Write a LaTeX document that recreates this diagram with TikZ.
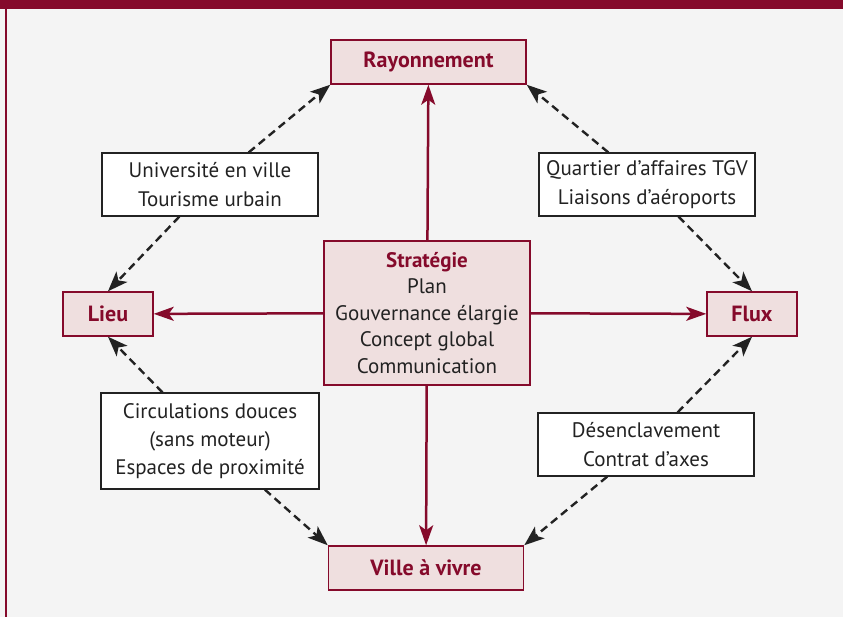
\documentclass[tikz,border=0pt]{standalone}
\usepackage{fontspec}
\setmainfont{PT Sans}
\usetikzlibrary{arrows.meta}
\usepackage{xcolor}
\definecolor{bordeaux}{HTML}{850A2B}
\definecolor{rosepale}{HTML}{EFDFDF}
\definecolor{fondgris}{HTML}{F4F4F4}
\definecolor{encre}{HTML}{222222}

\begin{document}
\begin{tikzpicture}[x=1pt, y=-1pt]
        % ================= 样式定义 =================
        \tikzset{
            % 外框节点:粉底红边
            pole/.style={draw=bordeaux, line width=1.5pt, fill=rosepale, minimum width=195pt, minimum height=44pt, inner sep=0pt, font=\fontsize{22}{26}\selectfont\bfseries, text=bordeaux},
            % 小节点
            petitpole/.style={pole, minimum width=90pt},
            % 说明框:白底黑边
            note/.style={draw=encre, line width=1.2pt, fill=white, minimum width=216pt, inner sep=0pt, align=center, font=\fontsize{21}{29}\selectfont, text=encre},
            % 红色实线箭头
            fleche/.style={draw=bordeaux, line width=2.5pt, -{Stealth[length=20pt, width=14pt, inset=5pt]}},
            % 黑色虚线箭头
            tirets/.style={draw=encre, line width=2.4pt, dash pattern=on 8pt off 5pt, -{Stealth[length=20pt, width=15pt, inset=5pt]}}
        }

        % ================= 1. 背景与边框 =================
        \useasboundingbox (0,0) rectangle (843,617);
        \fill[fondgris] (0,0) rectangle (843,617);
        \fill[bordeaux] (0,0) rectangle (843,9.5);
        \draw[bordeaux, line width=2.4pt] (5.8,0) -- (5.8,617);

        % ================= 2. 节点 =================
        \node[pole] (rayon) at (428.5, 62) {Rayonnement};
        \node[pole] (ville) at (426, 568) {Ville à vivre};
        \node[petitpole] (lieu) at (108, 314) {Lieu};
        \node[petitpole] (flux) at (752, 314) {Flux};

        % 中心:策略
        \node[pole, minimum width=206pt, minimum height=144pt, align=center, font=\fontsize{21}{26.5}\selectfont, text=encre] (strat) at (427, 313)
            {\textcolor{bordeaux}{\bfseries Stratégie}\\Plan\\Gouvernance élargie\\Concept global\\Communication};

        % 四个说明框
        \node[note, minimum height=63pt] (univ) at (210, 184.5) {Université en ville\\Tourisme urbain};
        \node[note, minimum height=63pt] (quartier) at (647, 184.5) {Quartier d’affaires TGV\\Liaisons d’aéroports};
        \node[note, minimum width=218pt, minimum height=96pt, font=\fontsize{21}{28}\selectfont] (circ) at (210, 441) {Circulations douces\\(sans moteur)\\Espaces de proximité};
        \node[note, minimum height=63pt] (desen) at (646, 444.5) {Désenclavement\\Contrat d’axes};

        % ================= 3. 连线 =================
        \draw[fleche] (strat) -- (rayon);
        \draw[fleche] (strat) -- (ville);
        \draw[fleche] (strat) -- (lieu);
        \draw[fleche] (strat) -- (flux);

        % 虚线:经过说明框
        \draw[tirets] (univ) -- (rayon.south west);
        \draw[tirets] (univ) -- (lieu.north);
        \draw[tirets] (quartier) -- (rayon.south east);
        \draw[tirets] (quartier) -- (flux.north);
        \draw[tirets] (circ) -- (lieu.south);
        \draw[tirets] (circ) -- (ville.north west);
        \draw[tirets] (desen) -- (flux.south);
        \draw[tirets] (desen) -- (ville.north east);

    \end{tikzpicture}
\end{document}
